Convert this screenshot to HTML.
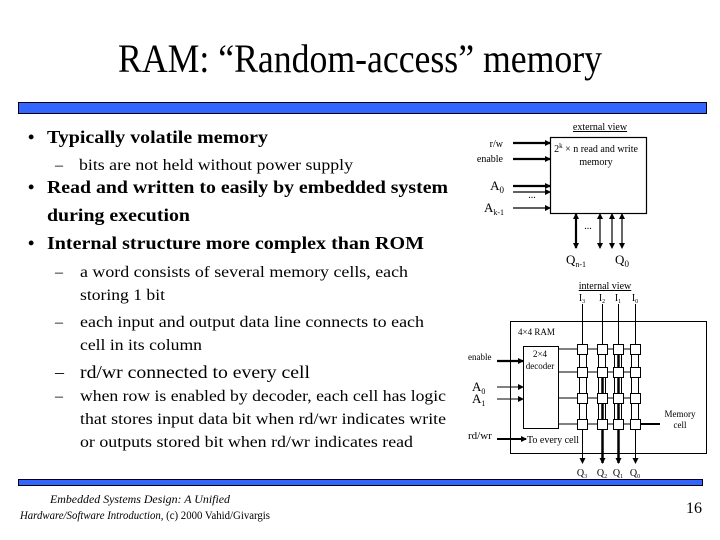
<!DOCTYPE html>
<html><head><meta charset="utf-8"><style>
html,body{margin:0;padding:0;background:#fff;}
svg{display:block;font-family:"Liberation Serif",serif;}
</style></head><body>
<svg width="720" height="540" viewBox="0 0 720 540" xmlns="http://www.w3.org/2000/svg">
<defs>
<marker id="a" markerWidth="6" markerHeight="6" refX="5" refY="3" orient="auto" markerUnits="userSpaceOnUse"><path d="M0,0 L6,3 L0,6z" fill="#000"/></marker>
<marker id="as" markerWidth="6" markerHeight="6" refX="1" refY="3" orient="auto" markerUnits="userSpaceOnUse"><path d="M6,0 L0,3 L6,6z" fill="#000"/></marker>
</defs>
<text x="360" y="72" font-size="40" text-anchor="middle" textLength="484" lengthAdjust="spacingAndGlyphs">RAM: “Random-access” memory</text>
<rect x="18.5" y="102.5" width="688" height="11" fill="#3366ff" stroke="#001" stroke-width="1"/>
<rect x="18.5" y="479.5" width="684" height="6" fill="#3366ff" stroke="#001" stroke-width="1"/>

<g font-size="18" font-weight="bold">
<text x="28" y="143">•</text><text x="47" y="143" textLength="221" lengthAdjust="spacingAndGlyphs">Typically volatile memory</text>
<text x="28" y="193">•</text><text x="47" y="193" textLength="401" lengthAdjust="spacingAndGlyphs">Read and written to easily by embedded system</text>
<text x="47" y="221" textLength="143" lengthAdjust="spacingAndGlyphs">during execution</text>
<text x="28" y="249">•</text><text x="47" y="249" textLength="377" lengthAdjust="spacingAndGlyphs">Internal structure more complex than ROM</text>
</g>
<g font-size="16">
<text x="55" y="170">–</text><text x="79" y="170" textLength="274" lengthAdjust="spacingAndGlyphs">bits are not held without power supply</text>
<text x="55" y="277">–</text><text x="80" y="277" textLength="328" lengthAdjust="spacingAndGlyphs">a word consists of several memory cells, each</text>
<text x="80" y="300" textLength="85" lengthAdjust="spacingAndGlyphs">storing 1 bit</text>
<text x="55" y="327">–</text><text x="80" y="327" textLength="344" lengthAdjust="spacingAndGlyphs">each input and output data line connects to each</text>
<text x="80" y="350" textLength="122" lengthAdjust="spacingAndGlyphs">cell in its column</text>
<text x="55" y="378" font-size="18">–</text><text x="80" y="378" font-size="18" textLength="230" lengthAdjust="spacingAndGlyphs">rd/wr connected to every cell</text>
<text x="55" y="401">–</text><text x="80" y="401" textLength="366" lengthAdjust="spacingAndGlyphs">when row is enabled by decoder, each cell has logic</text>
<text x="80" y="424" textLength="366" lengthAdjust="spacingAndGlyphs">that stores input data bit when rd/wr indicates write</text>
<text x="80" y="447" textLength="333" lengthAdjust="spacingAndGlyphs">or outputs stored bit when rd/wr indicates read</text>
</g>

<g font-size="12" font-style="italic">
<text x="140" y="503" text-anchor="middle" textLength="180" lengthAdjust="spacingAndGlyphs">Embedded Systems Design: A Unified</text>
<text x="20" y="519" textLength="250" lengthAdjust="spacingAndGlyphs">Hardware/Software Introduction, <tspan font-style="normal">(c) 2000 Vahid/Givargis</tspan></text>
</g>
<text x="686" y="513" font-size="16">16</text>

<!-- external view -->
<g font-size="10" stroke="none">
<text x="600" y="130" text-anchor="middle" text-decoration="underline">external view</text>
<text x="503" y="147" text-anchor="end">r/w</text>
<text x="503" y="162" text-anchor="end">enable</text>
<text x="504" y="190" text-anchor="end" font-size="13">A<tspan font-size="9" dy="3">0</tspan></text>
<text x="504" y="212" text-anchor="end" font-size="13">A<tspan font-size="8" dy="3">k-1</tspan></text>
<text x="596" y="152" text-anchor="middle">2<tspan font-size="7" dy="-4">k</tspan><tspan dy="4"> × n read and write</tspan></text>
<text x="596" y="165" text-anchor="middle">memory</text>
<text x="532" y="198" text-anchor="middle">...</text>
<text x="588" y="229" text-anchor="middle">...</text>
<text x="576" y="264" text-anchor="middle" font-size="13">Q<tspan font-size="8" dy="3">n-1</tspan></text>
<text x="622" y="264" text-anchor="middle" font-size="13">Q<tspan font-size="9" dy="3">0</tspan></text>
</g>
<g stroke="#000" fill="none">
<rect x="550.5" y="137.5" width="96" height="76" stroke-width="1.2"/>
<line x1="513" y1="143" x2="550" y2="143" stroke-width="2.2" marker-end="url(#a)"/>
<line x1="513" y1="159" x2="550" y2="159" stroke-width="2.2" marker-end="url(#a)"/>
<line x1="513" y1="186" x2="550" y2="186" stroke-width="2.2" marker-end="url(#a)"/>
<line x1="513" y1="192" x2="550" y2="192" stroke-width="1.2" marker-end="url(#a)"/>
<line x1="513" y1="208" x2="550" y2="208" stroke-width="1.2" marker-end="url(#a)"/>
<line x1="576" y1="214" x2="576" y2="248" stroke-width="2.2" marker-start="url(#as)" marker-end="url(#a)"/>
<line x1="600" y1="214" x2="600" y2="248" stroke-width="1.2" marker-start="url(#as)" marker-end="url(#a)"/>
<line x1="612" y1="214" x2="612" y2="248" stroke-width="1.2" marker-start="url(#as)" marker-end="url(#a)"/>
<line x1="622" y1="214" x2="622" y2="248" stroke-width="1.2" marker-start="url(#as)" marker-end="url(#a)"/>
</g>

<!-- internal view -->
<g font-size="10">
<text x="605" y="289" text-anchor="middle" text-decoration="underline">internal view</text>
<text x="582" y="301" text-anchor="middle">I<tspan font-size="6" dy="2">3</tspan></text>
<text x="602" y="301" text-anchor="middle">I<tspan font-size="6" dy="2">2</tspan></text>
<text x="618" y="301" text-anchor="middle">I<tspan font-size="6" dy="2">1</tspan></text>
<text x="635" y="301" text-anchor="middle">I<tspan font-size="6" dy="2">0</tspan></text>
<text x="518" y="335" font-size="9">4×4 RAM</text>
<text x="540" y="357" text-anchor="middle" font-size="9">2×4</text>
<text x="540" y="369" text-anchor="middle" font-size="9">decoder</text>
<text x="468" y="360" font-size="9">enable</text>
<text x="472" y="391" font-size="13">A<tspan font-size="8" dy="3">0</tspan></text>
<text x="472" y="403" font-size="13">A<tspan font-size="8" dy="3">1</tspan></text>
<text x="468" y="439" font-size="11">rd/wr</text>
<text x="527" y="443" font-size="10">To every  cell</text>
<text x="680" y="417" text-anchor="middle" font-size="9">Memory</text>
<text x="680" y="428" text-anchor="middle" font-size="9">cell</text>
<text x="582" y="476" text-anchor="middle">Q<tspan font-size="6" dy="2">3</tspan></text>
<text x="602" y="476" text-anchor="middle">Q<tspan font-size="6" dy="2">2</tspan></text>
<text x="618" y="476" text-anchor="middle">Q<tspan font-size="6" dy="2">1</tspan></text>
<text x="635" y="476" text-anchor="middle">Q<tspan font-size="6" dy="2">0</tspan></text>
</g>
<g stroke="#000" fill="none" stroke-width="1">
<rect x="510.5" y="321.5" width="196" height="132"/>
<rect x="523.5" y="346.5" width="35" height="82"/>
<line x1="497" y1="361" x2="523" y2="361" stroke-width="2.2" marker-end="url(#a)"/>
<line x1="497" y1="387" x2="523" y2="387" marker-end="url(#a)"/>
<line x1="497" y1="399" x2="523" y2="399" marker-end="url(#a)"/>
<line x1="497" y1="439" x2="526" y2="439" stroke-width="2" marker-end="url(#a)"/>
<line x1="660" y1="424" x2="636" y2="424" stroke-width="2" marker-end="url(#a)"/>
<line x1="558" y1="349" x2="635" y2="349"/>
<line x1="558" y1="372" x2="635" y2="372"/>
<line x1="558" y1="398" x2="635" y2="398"/>
<line x1="558" y1="424" x2="635" y2="424"/>
<line x1="582.5" y1="304" x2="582.5" y2="344"/>
<line x1="602.5" y1="304" x2="602.5" y2="344"/>
<line x1="618.5" y1="304" x2="618.5" y2="344"/>
<line x1="635.5" y1="304" x2="635.5" y2="344"/>
<path d="M579.5 349V424M586.5 349V424M598.5 349V424M605.5 349V424M614.5 349V424M621.5 349V424M631.5 349V424M638.5 349V424"/>
<line x1="582.5" y1="429" x2="582.5" y2="463" marker-end="url(#a)"/>
<line x1="602.5" y1="372" x2="602.5" y2="463" stroke-width="2.5" marker-end="url(#a)"/>
<line x1="618.5" y1="349" x2="618.5" y2="463" stroke-width="2.5" marker-end="url(#a)"/>
<line x1="635.5" y1="429" x2="635.5" y2="463" marker-end="url(#a)"/>
</g>
<g stroke="#000" fill="#fff" stroke-width="1">
<rect x="577.5" y="344.5" width="10" height="10"/><rect x="597.5" y="344.5" width="10" height="10"/><rect x="613.5" y="344.5" width="10" height="10"/><rect x="630.5" y="344.5" width="10" height="10"/>
<rect x="577.5" y="367.5" width="10" height="10"/><rect x="597.5" y="367.5" width="10" height="10"/><rect x="613.5" y="367.5" width="10" height="10"/><rect x="630.5" y="367.5" width="10" height="10"/>
<rect x="577.5" y="393.5" width="10" height="10"/><rect x="597.5" y="393.5" width="10" height="10"/><rect x="613.5" y="393.5" width="10" height="10"/><rect x="630.5" y="393.5" width="10" height="10"/>
<rect x="577.5" y="419.5" width="10" height="10"/><rect x="597.5" y="419.5" width="10" height="10"/><rect x="613.5" y="419.5" width="10" height="10"/><rect x="630.5" y="419.5" width="10" height="10"/>
</g>
</svg>
</body></html>
